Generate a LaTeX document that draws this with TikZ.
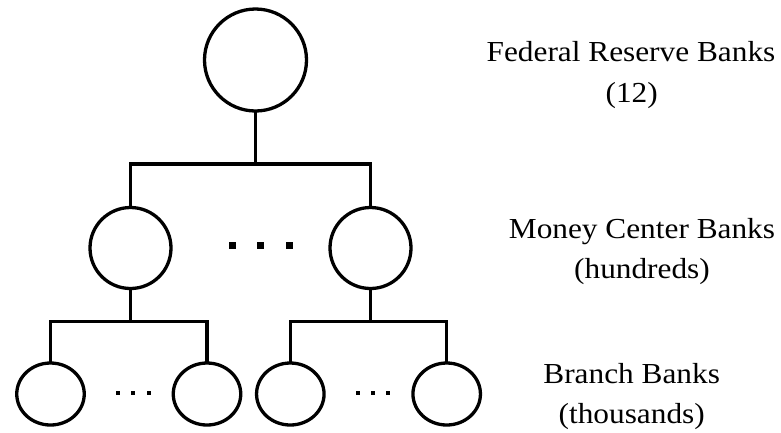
\documentclass[tikz,border=0pt]{standalone}
\usepackage{fontspec}
\setmainfont{Liberation Serif}
\newfontfamily\lblfont[FakeStretch=1.08]{Liberation Serif}
\usetikzlibrary{shapes.geometric}
\begin{document}
\begin{tikzpicture}[x=1pt,y=-1pt,
  link/.style={line width=3.3pt},
  bank/.style={draw,ellipse,line width=3.3pt,inner sep=0pt,outer sep=0pt},
  topbank/.style={bank,minimum width=102pt,minimum height=102pt},
  midbank/.style={bank,minimum width=81pt,minimum height=81pt},
  lowbank/.style={bank,minimum width=67.5pt,minimum height=62pt},
  bigdot/.style={fill=black,inner sep=0pt,minimum size=7pt,rectangle},
  smalldot/.style={fill=black,inner sep=0pt,minimum size=4pt,rectangle},
  lbl/.style={anchor=base,inner sep=0pt,font=\lblfont\fontsize{29}{35}\selectfont}]
\useasboundingbox (0,0) rectangle (781,432);
% nodes
\node[topbank] (top) at (255.5,60) {};
\node[midbank] (m1) at (130.5,248) {};
\node[midbank] (m2) at (370.5,248) {};
\node[lowbank] (b1) at (50.5,394) {};
\node[lowbank] (b2) at (207,394) {};
\node[lowbank] (b3) at (290.3,394) {};
\node[lowbank] (b4) at (446.7,394) {};
% junctions
\coordinate (j1) at (255.5,164);
\coordinate (j2) at (130.5,321.7);
\coordinate (j3) at (370.5,321.7);
% connectors
\draw[link] (top) -- (j1);
\draw[link] (m1.north) |- (j1) -| (m2.north);
\draw[link] (m1) -- (j2);
\draw[link] (m2) -- (j3);
\draw[link] (b1.north) |- (j2) -| (b2.north);
\draw[link] (b3.north) |- (j3) -| (b4.north);
% dots
\node[bigdot] (d1) at (232,245) {};
\node[bigdot] (d2) at (260.7,245) {};
\node[bigdot] (d3) at (289.3,245) {};
\node[smalldot] (s1) at (117.7,392.7) {};
\node[smalldot] (s2) at (132.7,392.7) {};
\node[smalldot] (s3) at (148.7,392.7) {};
\node[smalldot] (s4) at (357.7,392.7) {};
\node[smalldot] (s5) at (372.7,392.7) {};
\node[smalldot] (s6) at (387.7,392.7) {};
% labels
\node[lbl] (t1) at (631,61) {Federal Reserve Banks};
\node[lbl] (t2) at (631.7,102) {(12)};
\node[lbl] (t3) at (642,238) {Money Center Banks};
\node[lbl] (t4) at (642,278) {(hundreds)};
\node[lbl] (t5) at (631.7,383.3) {Branch Banks};
\node[lbl] (t6) at (631.7,423) {(thousands)};
\end{tikzpicture}
\end{document}
